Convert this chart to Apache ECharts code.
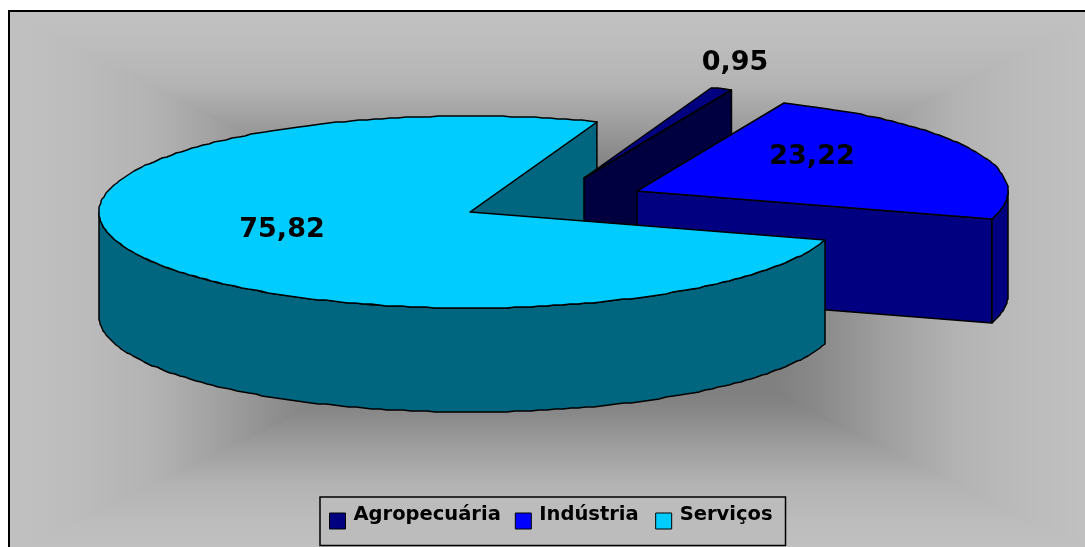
<!DOCTYPE html>
<html><head><meta charset="utf-8">
<style>html,body{margin:0;padding:0;background:#fff}#c{width:1085px;height:547px}</style>
<script src="https://cdn.jsdelivr.net/npm/echarts@6/dist/echarts.min.js"></script>
</head><body><div id="c"></div>
<script>
const categories = ['Agropecuária', 'Indústria', 'Serviços'];
const values = [0.95, 23.22, 75.82];
const topColors = ['#000080', '#0000ff', '#00ccff'];
const sideColors = ['#000080', '#000080', '#006680'];
const wallColors = ['#000040', '#000080', '#006680'];
const centers = [[584, 178], [637, 191], [470, 212]];
const labelAnchors = [[735, 63], [812, 157], [282, 230]];
const wallZ = [10, 20, 1];
const bodyZ = [11, 21, 30];
const RX = 371, RY = 96, DEPTH = 104, START_DEG = -70;
const FONT = '"DejaVu Sans"';
const total = values.reduce((a, b) => a + b, 0);

function pt(c, deg, dy) {
  const a = deg * Math.PI / 180;
  return [c[0] + RX * Math.cos(a), c[1] + RY * Math.sin(a) + (dy || 0)];
}
function arc(c, a0, a1, dy) {
  const n = Math.max(2, Math.ceil(Math.abs(a1 - a0) / 1.25)), out = [];
  for (let i = 0; i <= n; i++) {
    const p = pt(c, a0 + (a1 - a0) * i / n, dy);
    out.push([Math.round(p[0]), Math.round(p[1])]);
  }
  return out;
}
const poly = (points, fill, z2) => ({
  type: 'polygon', z2, shape: { points },
  style: { fill, stroke: '#000', lineWidth: 1.5, lineJoin: 'round' }
});

function makeRender(idx) {
  return function (params, api) {
    const v = api.value(0);
    let before = 0;
    for (let i = 0; i < idx; i++) before += values[i];
    const a0 = START_DEG + before / total * 360;
    const a1 = a0 + v / total * 360;
    const c = centers[idx], kids = [];
    // the cut face seen from the viewer: runs along the slice's closing edge
    kids.push(poly([c, pt(c, a1), pt(c, a1, DEPTH), [c[0], c[1] + DEPTH]], wallColors[idx], wallZ[idx]));
    // outer rim wall: only the part between 0 and 180 degrees faces the viewer
    for (const off of [0, -360, 360]) {
      const lo = Math.max(a0 + off, 0), hi = Math.min(a1 + off, 180);
      if (hi > lo) {
        kids.push(poly(arc(c, lo, hi, 0).concat(arc(c, hi, lo, DEPTH)), sideColors[idx], bodyZ[idx]));
      }
    }
    kids.push(poly([c].concat(arc(c, a0, a1, 0)), topColors[idx], bodyZ[idx] + 1));
    const la = labelAnchors[idx];
    kids.push({
      type: 'text', z2: 50,
      style: {
        x: la[0], y: la[1], text: v.toFixed(2).replace('.', ','),
        fill: '#000', font: 'bold 27px ' + FONT, align: 'center', verticalAlign: 'middle'
      }
    });
    return { type: 'group', children: kids };
  };
}

// rectangular-path gradient backdrop; each apex overshoots the centre a little so no seams show
const G = { l: 25, t: 23, r: 1085, b: 547 };
const cx = 555, cy = 285, O = 4;
const stops = [
  { offset: 0, color: '#c0c0c0' }, { offset: 0.1, color: '#bcbcbc' }, { offset: 0.24, color: '#b3b3b3' },
  { offset: 0.37, color: '#a0a0a0' }, { offset: 0.5, color: '#8a8a8a' }, { offset: 0.58, color: '#808080' }, { offset: 1, color: '#808080' }
];
function tri(points, x, y, x2, y2) {
  return {
    type: 'polygon', silent: true, z: -10, shape: { points },
    style: { fill: new echarts.graphic.LinearGradient(x, y, x2, y2, stops, true), stroke: null }
  };
}
const graphic = [
  { type: 'rect', z: -11, silent: true, shape: { x: 9, y: 11, width: 1100, height: 560 }, style: { fill: '#c0c0c0' } },
  tri([[G.l, G.t], [G.l, G.b], [cx + O * 2, cy]], G.l, cy, cx, cy),
  tri([[G.r, G.t], [G.r, G.b], [cx - O * 2, cy]], G.r, cy, cx, cy),
  tri([[G.l, G.t], [G.r, G.t], [cx, cy + O]], cx, G.t, cx, cy),
  tri([[G.l, G.b], [G.r, G.b], [cx, cy - O]], cx, G.b, cx, cy),
  { type: 'polyline', z: 100, silent: true, shape: { points: [[9, 560], [9, 11], [1100, 11]] }, style: { fill: null, stroke: '#000', lineWidth: 2 } }
];

const chart = echarts.init(document.getElementById('c'), null, { renderer: 'canvas' });
const token = { fontFamily: FONT, fontWeight: 'bold', fontSize: 19.5, color: '#000', padding: [0, 0, 12, 3] };
chart.setOption({
  animation: false,
  backgroundColor: '#fff',
  graphic,
  legend: {
    data: categories,
    left: 320, top: 497,
    orient: 'horizontal', backgroundColor: '#bcbcbc', borderColor: '#000', borderWidth: 1.5,
    padding: [8, 13, 16, 9], itemWidth: 16, itemHeight: 16, itemGap: 14,
    icon: 'rect', itemStyle: { borderColor: '#000', borderWidth: 1 },
    formatter: (name) => '{a|' + name + '}' + (name === categories[1] ? '{g| }' : ''),
    textStyle: { rich: { a: token, g: { fontSize: 9, width: 8, padding: [0, 0, 12, 0] } } }
  },
  series: categories.map((name, i) => ({
    type: 'custom', name, coordinateSystem: 'none', clip: false,
    itemStyle: { color: topColors[i], borderColor: '#000', borderWidth: 1 },
    data: [[values[i]]],
    renderItem: makeRender(i)
  }))
});
</script></body></html>
